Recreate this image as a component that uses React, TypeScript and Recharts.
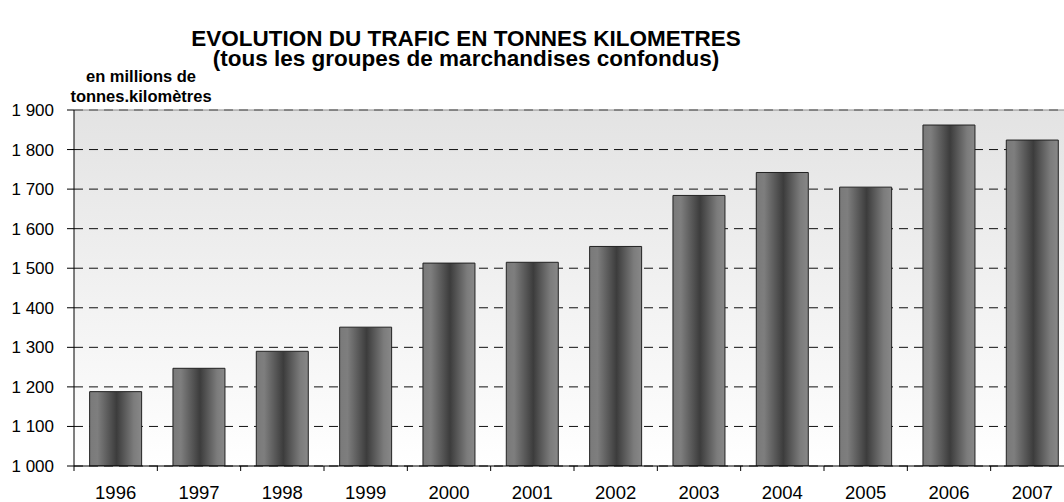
import React from 'react';
import { BarChart, Bar, XAxis, YAxis, CartesianGrid, ReferenceLine } from 'recharts';

const years = ['1996', '1997', '1998', '1999', '2000', '2001', '2002', '2003', '2004', '2005', '2006', '2007'];
const trafic = [1188, 1247, 1290, 1351, 1513, 1515, 1555, 1684, 1742, 1705, 1862, 1824];
const yTicks = [1000, 1100, 1200, 1300, 1400, 1500, 1600, 1700, 1800, 1900];
const titleLine1 = 'EVOLUTION DU TRAFIC EN TONNES KILOMETRES';
const titleLine2 = '(tous les groupes de marchandises confondus)';
const unitLine1 = 'en millions de';
const unitLine2 = 'tonnes.kilomètres';

const data = years.map((y, i) => ({ year: y, value: trafic[i] }));

const FONT = '"Liberation Sans", Arial, sans-serif';
const PLOT_W = 1000;

const fmt = (v: number) => String(v).replace(/\B(?=(\d{3})+(?!\d))/g, ' ');

const XTick = (props: any) => {
  const { x, y, payload } = props;
  const half = PLOT_W / (2 * years.length);
  return (
    <g>
      <line x1={x - half} x2={x - half} y1={y} y2={y + 5} stroke="#000" strokeWidth={1} />
      <text x={x} y={y + 33} textAnchor="middle" fontSize={18.5} fontFamily={FONT} fill="#000">
        {payload.value}
      </text>
    </g>
  );
};

export default function App() {
  return (
    <div style={{ position: 'absolute', left: 0, top: 0, width: 1064, height: 502, overflow: 'hidden', background: '#fff' }}>
      <BarChart
        width={1074}
        height={502}
        data={data}
        margin={{ top: 110, right: 0, left: 0, bottom: 0 }}
        barCategoryGap="18.75%"
      >
        <defs>
          <linearGradient id="plotBg" x1="0" y1="0" x2="0" y2="1">
            <stop offset="0%" stopColor="#e3e3e3" />
            <stop offset="100%" stopColor="#ffffff" />
          </linearGradient>
          <linearGradient id="barGrad" x1="0" y1="0" x2="1" y2="0">
            <stop offset="0%" stopColor="#7a7a7a" />
            <stop offset="15%" stopColor="#7e7e7e" />
            <stop offset="52%" stopColor="#3c3c3c" />
            <stop offset="85%" stopColor="#7c7c7c" />
            <stop offset="100%" stopColor="#888888" />
          </linearGradient>
        </defs>
        <CartesianGrid vertical={false} stroke="#111" strokeDasharray="9 6" fill="url(#plotBg)" />
        <ReferenceLine y={1900} stroke="#8c8c8c" strokeWidth={1} />
        <XAxis
          dataKey="year"
          height={36}
          tickSize={0}
          tickMargin={0}
          tickLine={false}
          axisLine={{ stroke: '#000' }}
          tick={<XTick />}
          interval={0}
        />
        <YAxis
          width={74}
          domain={[1000, 1900]}
          ticks={yTicks}
          tickFormatter={fmt}
          tickSize={7}
          tickMargin={13}
          axisLine={{ stroke: '#000' }}
          tickLine={{ stroke: '#000' }}
          tick={{ fill: '#000', fontSize: 17, fontFamily: FONT }}
          allowDataOverflow
        />
        <Bar dataKey="value" fill="url(#barGrad)" stroke="#222222" strokeWidth={1} isAnimationActive={false} />
      </BarChart>
      <div style={{ position: 'absolute', left: 166, top: 30, width: 600, textAlign: 'center', fontFamily: FONT, fontWeight: 'bold', fontSize: 22.5, lineHeight: '18px', color: '#000', whiteSpace: 'nowrap' }}>
        {titleLine1}
      </div>
      <div style={{ position: 'absolute', left: 166, top: 49, width: 600, textAlign: 'center', fontFamily: FONT, fontWeight: 'bold', fontSize: 22.5, lineHeight: '20px', color: '#000', whiteSpace: 'nowrap' }}>
        {titleLine2}
      </div>
      <div style={{ position: 'absolute', left: 41, top: 66, width: 200, textAlign: 'center', fontFamily: FONT, fontWeight: 'bold', fontSize: 16.5, lineHeight: '20px', color: '#000' }}>
        <div>{unitLine1}</div>
        <div>{unitLine2}</div>
      </div>
    </div>
  );
}
